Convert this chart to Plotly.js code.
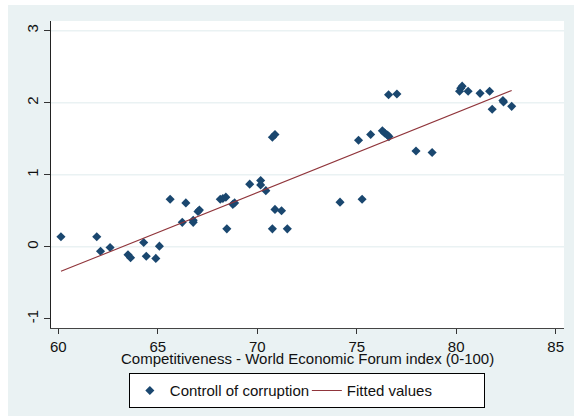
<!DOCTYPE html>
<html>
<head>
<meta charset="utf-8">
<script src="https://cdn.plot.ly/plotly-3.0.1.min.js"></script>
<style>
html, body { margin: 0; padding: 0; background: #ffffff; width: 574px; height: 416px; overflow: hidden; }
#chart { position: absolute; left: 8px; top: 5px; width: 566px; height: 411px; }
</style>
</head>
<body>
<div id="chart"></div>
<script>
// Controll of corruption vs competitiveness
const competitiveness = [60.13, 61.93, 62.12, 62.60, 63.50, 63.63, 64.29, 64.42, 64.90, 65.08,
  65.62, 66.23, 66.41, 66.78, 66.78, 67.02, 67.09, 68.14, 68.27, 68.42,
  68.47, 68.77, 68.86, 69.62, 70.17, 70.17, 70.43, 70.76, 70.89, 70.76,
  70.89, 71.22, 71.51, 74.16, 75.09, 75.27, 75.70, 76.29, 76.40, 76.55,
  76.62, 76.60, 77.02, 77.98, 78.79, 80.17, 80.23, 80.30, 80.60, 81.20,
  81.68, 81.81, 82.35, 82.38, 82.79];
const corruption = [0.14, 0.14, -0.06, -0.01, -0.11, -0.15, 0.06, -0.13, -0.16, 0.01,
  0.66, 0.34, 0.61, 0.37, 0.34, 0.49, 0.51, 0.66, 0.67, 0.69,
  0.25, 0.59, 0.61, 0.87, 0.92, 0.86, 0.78, 1.52, 1.56, 0.25,
  0.52, 0.50, 0.25, 0.62, 1.48, 0.66, 1.56, 1.61, 1.58, 1.55,
  1.53, 2.11, 2.12, 1.33, 1.31, 2.16, 2.20, 2.23, 2.16, 2.13,
  2.16, 1.91, 2.03, 2.01, 1.95];
const fittedX = [60.13, 82.79];
const fittedY = [-0.34, 2.17];
const xTicks = [60, 65, 70, 75, 80, 85];
const yTicks = [-1, 0, 1, 2, 3];
const gridVals = [0, 1, 2, 3];
const seriesNames = ["Controll of corruption", "Fitted values"];
const xTitle = "Competitiveness - World Economic Forum index (0-100)";

const font = "Arial, 'Liberation Sans', sans-serif";
const bg = "#eaf2f3";
const fs = 15;

const traces = [
  {
    x: competitiveness, y: corruption, type: "scatter", mode: "markers",
    name: seriesNames[0],
    marker: { symbol: "diamond", size: 7, color: "#1a476f", line: { width: 0 } }
  },
  {
    x: fittedX, y: fittedY, type: "scatter", mode: "lines",
    name: seriesNames[1],
    line: { color: "#90353b", width: 1.1 }
  }
];

const shapes = gridVals.map(v => ({
  type: "line", xref: "paper", yref: "y", x0: 0, x1: 1, y0: v, y1: v,
  line: { color: bg, width: 1.5 }, layer: "below"
}));

const layout = {
  width: 566, height: 411,
  margin: { l: 43, r: 10, t: 16, b: 88, autoexpand: false },
  paper_bgcolor: bg,
  plot_bgcolor: "#ffffff",
  font: { family: font, size: fs, color: "#111111" },
  showlegend: true,
  legend: {
    orientation: "h", xref: "container", yref: "container",
    x: 0.528, xanchor: "center", y: 0.104, yanchor: "top",
    bgcolor: "#ffffff", bordercolor: "#000000", borderwidth: 1,
    font: { family: font, size: fs, color: "#111111" },
    entrywidth: 132, entrywidthmode: "pixels"
  },
  xaxis: {
    range: [59.63, 85.42], tickmode: "array", tickvals: xTicks,
    ticktext: xTicks.map(String), automargin: false,
    showgrid: false, zeroline: false, showline: true, linecolor: "#444444", linewidth: 1,
    ticks: "outside", ticklen: 5, tickcolor: "#333333", tickwidth: 1,
    tickfont: { family: font, size: fs, color: "#111111" }
  },
  yaxis: {
    range: [-1.126, 3.134], tickmode: "array", tickvals: yTicks,
    ticktext: yTicks.map(String), tickangle: -90, automargin: false,
    showgrid: false, zeroline: false, showline: true, linecolor: "#222222", linewidth: 1,
    ticks: "outside", ticklen: 6, tickcolor: "#333333", tickwidth: 1,
    tickfont: { family: font, size: fs, color: "#111111" }
  },
  shapes: shapes,
  annotations: [{
    text: xTitle, xref: "paper", yref: "paper", x: 0.5, y: -0.1,
    xanchor: "center", yanchor: "middle", showarrow: false,
    font: { family: font, size: fs, color: "#111111" }
  }]
};

Plotly.newPlot("chart", traces, layout, { displayModeBar: false, staticPlot: true });
</script>
</body>
</html>
